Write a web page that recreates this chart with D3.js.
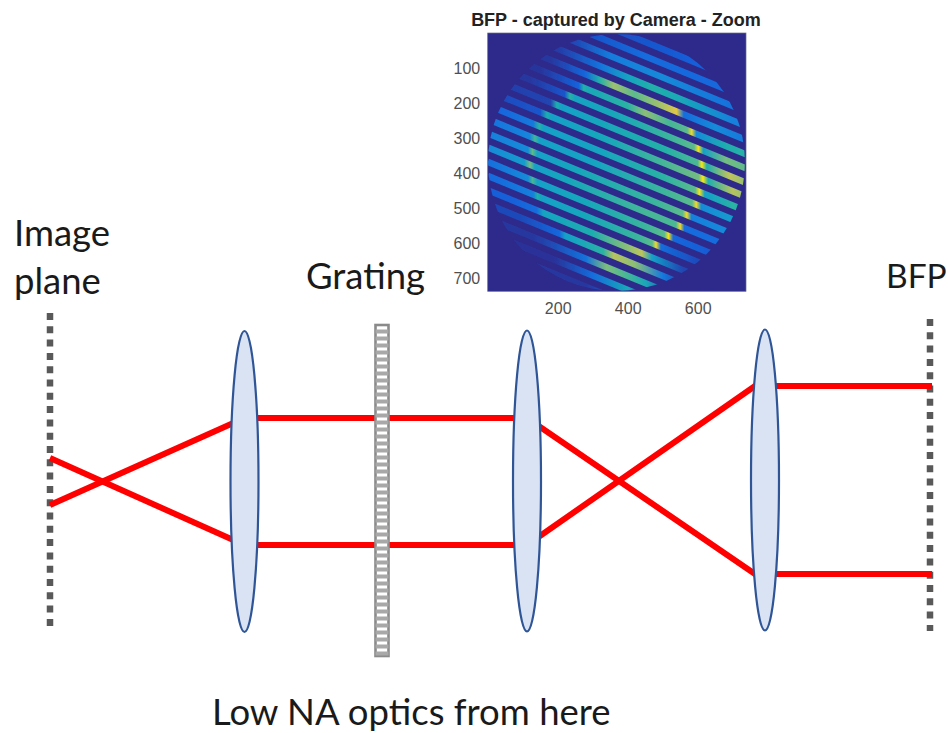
<!DOCTYPE html>
<html>
<head>
<meta charset="utf-8">
<script src="https://cdn.jsdelivr.net/npm/d3@7"></script>
<style>
  html, body { margin: 0; padding: 0; background: #fff; }
  svg { display: block; }
  .label { font-family: Lato, "Open Sans", sans-serif; font-size: 36.5px; fill: #1a1a1a; }
  .inset text { font-family: "Liberation Sans", Arial, sans-serif; }
</style>
</head>
<body>
<svg id="chart" width="948" height="733"></svg>
<script>
// optical bench: stations along the axis, ray heights above the axis
const imagePlaneX = 50;
const lensX = [244.5, 527, 765];
const gratingX = 382;
const bfpX = 930;
const rayUpper = [[50, 23], [244.5, -64], [527, -64], [755, 95], [932, 95]];
const rayLower = [[50, -24], [244.5, 63], [527, 63], [755, -93], [932, -93]];
const gratingRungs = d3.range(0, 47);

const labelTexts = ['Image', 'plane', 'Grating', 'BFP', 'Low NA optics from here'];

// camera image: stripes are y = offset + slope * x in pixel units
const insetTitle = 'BFP - captured by Camera - Zoom';
const xTicks = [200, 400, 600];
const yTicks = [100, 200, 300, 400, 500, 600, 700];
const stripeSlope = 0.41;
const stripeOffsets = [-159, -118, -78, -37, 3, 44, 84, 125, 165, 206, 246, 287, 327, 368, 408, 449, 489, 530, 570, 610];
// [x, level] read along each stripe
const stripeLevels = [
  [[380, .18], [620, .25]],
  [[300, .2], [450, .3], [650, .28]],
  [[240, .12], [350, .36], [500, .42], [700, .32]],
  [[200, .08], [320, .32], [400, .52], [470, .6], [550, .55], [700, .38]],
  [[180, .06], [280, .28], [320, .6], [360, .8], [420, .72], [500, .82], [540, .9], [560, .3], [650, .42], [720, .36]],
  [[150, .05], [260, .26], [274, .6], [290, .55], [400, .62], [450, .78], [520, .68], [570, .72], [583, .95], [596, .42], [680, .58], [745, .62]],
  [[120, .06], [220, .2], [235, .62], [250, .52], [380, .55], [520, .66], [590, .72], [602, .98], [616, .5], [680, .75], [745, .72]],
  [[60, .1], [180, .12], [197, .58], [212, .5], [350, .55], [500, .6], [600, .7], [612, 1], [626, .58], [690, .85], [745, .78]],
  [[30, .15], [150, .2], [169, .58], [184, .5], [350, .55], [500, .68], [603, .75], [615, 1], [630, .58], [700, .84], [745, .78]],
  [[10, .25], [130, .35], [147, .62], [160, .5], [300, .52], [500, .62], [593, .72], [605, .98], [620, .5], [700, .62], [745, .6]],
  [[0, .32], [120, .4], [135, .68], [148, .5], [300, .52], [500, .66], [584, .72], [596, .95], [610, .42], [720, .5]],
  [[0, .38], [115, .42], [128, .72], [142, .5], [280, .55], [480, .66], [557, .72], [569, .95], [582, .38], [700, .42]],
  [[0, .42], [105, .48], [121, .75], [135, .5], [250, .55], [450, .68], [538, .7], [550, .95], [562, .3], [680, .3]],
  [[10, .32], [115, .42], [128, .68], [142, .5], [300, .55], [450, .66], [505, .72], [517, .98], [530, .28], [650, .22]],
  [[30, .3], [130, .38], [142, .6], [156, .5], [300, .55], [430, .66], [470, .72], [481, .95], [495, .3], [600, .15]],
  [[60, .24], [140, .3], [159, .52], [300, .58], [400, .78], [440, .85], [470, .5], [560, .12]],
  [[90, .14], [205, .28], [221, .5], [330, .62], [360, .84], [420, .78], [500, .35], [560, .1]],
  [[130, .06], [280, .32], [340, .76], [400, .68], [450, .55], [530, .15]],
  [[190, .04], [300, .3], [400, .55], [480, .2]],
  [[280, .06], [400, .3], [480, .1]]
];
const pupil = { cx: 368, cy: 370, r: 367 };

const svg = d3.select('#chart');
const defs = svg.append('defs');

// bench scales
const benchX = d3.scaleLinear().domain([0, 948]).range([0, 948]);
const benchY = d3.scaleLinear().domain([-150, 150]).range([631, 331]);

// inset scales
const imgX = d3.scaleLinear().domain([0, 738]).range([487.7, 746]);
const imgY = d3.scaleLinear().domain([0, 738]).range([33, 291.3]);
const parula = d3.scaleLinear()
  .domain([0, .25, .4, .5, .6, .7, .8, .9, 1])
  .range(['#2d2a8c', '#1460dc', '#1585dc', '#12a0c8', '#22b0a8', '#4cb894', '#9cc070', '#e0c845', '#fbe80f']);

defs.append('filter').attr('id', 'soft')
  .attr('x', '-5%').attr('y', '-5%').attr('width', '110%').attr('height', '110%')
  .append('feGaussianBlur').attr('stdDeviation', 0.7);
defs.append('clipPath').attr('id', 'pupil-clip')
  .append('circle')
  .attr('cx', imgX(pupil.cx))
  .attr('cy', imgY(pupil.cy))
  .attr('r', imgX(pupil.r) - imgX(0));
defs.append('clipPath').attr('id', 'img-clip')
  .append('rect')
  .attr('x', imgX(0)).attr('y', imgY(0))
  .attr('width', imgX(738) - imgX(0)).attr('height', imgY(738) - imgY(0));

// one gradient per stripe, end levels pad out to the pupil edge
stripeLevels.forEach((knots, i) => {
  const x0 = knots[0][0];
  const x1 = knots[knots.length - 1][0];
  const grad = defs.append('linearGradient')
    .attr('id', `stripe-${i}`)
    .attr('gradientUnits', 'userSpaceOnUse')
    .attr('x1', imgX(x0)).attr('y1', 0)
    .attr('x2', imgX(x1)).attr('y2', 0);
  grad.selectAll('stop')
    .data(knots)
    .enter()
    .append('stop')
    .attr('offset', d => (d[0] - x0) / (x1 - x0))
    .attr('stop-color', d => parula(d[1]));
});

const inset = svg.append('g').attr('class', 'inset');

inset.append('rect')
  .attr('x', imgX(0)).attr('y', imgY(0))
  .attr('width', imgX(738) - imgX(0)).attr('height', imgY(738) - imgY(0))
  .attr('fill', parula(0));

const stripes = inset.append('g')
  .attr('clip-path', 'url(#img-clip)')
  .append('g')
  .attr('filter', 'url(#soft)')
  .append('g')
  .attr('clip-path', 'url(#pupil-clip)');

stripes.selectAll('line')
  .data(stripeOffsets)
  .enter()
  .append('line')
  .attr('x1', imgX(0))
  .attr('y1', d => imgY(d))
  .attr('x2', imgX(738))
  .attr('y2', d => imgY(d + stripeSlope * 738))
  .attr('stroke', (d, i) => `url(#stripe-${i})`)
  .attr('stroke-width', 6.5);

inset.append('rect')
  .attr('x', imgX(0)).attr('y', imgY(0))
  .attr('width', imgX(738) - imgX(0)).attr('height', imgY(738) - imgY(0))
  .attr('fill', 'none')
  .attr('stroke', '#6a6a8c')
  .attr('stroke-width', 0.7);

const xAxis = inset.append('g')
  .attr('transform', `translate(0,${imgY(738)})`)
  .call(d3.axisBottom(imgX).tickValues(xTicks).tickSize(0).tickPadding(11));
const yAxis = inset.append('g')
  .attr('transform', `translate(${imgX(0)},0)`)
  .call(d3.axisLeft(imgY).tickValues(yTicks).tickSize(0).tickPadding(7.5));
[xAxis, yAxis].forEach(a => {
  a.select('.domain').remove();
  a.selectAll('text').attr('fill', '#4f4f4f').style('font-size', '16px');
});

inset.append('text')
  .attr('x', 616)
  .attr('y', 26)
  .attr('text-anchor', 'middle')
  .attr('font-weight', 'bold')
  .attr('fill', '#222')
  .style('font-size', '18px')
  .text(insetTitle);

// image plane and BFP
const planes = svg.append('g');
planes.selectAll('line')
  .data([[imagePlaneX, 313, 626], [bfpX, 319, 631]])
  .enter()
  .append('line')
  .attr('x1', d => benchX(d[0]))
  .attr('x2', d => benchX(d[0]))
  .attr('y1', d => d[1])
  .attr('y2', d => d[2])
  .attr('stroke', '#595959')
  .attr('stroke-width', 6.5)
  .attr('stroke-dasharray', '7 6.3');

// rays
const rayLine = d3.line().x(d => benchX(d[0])).y(d => benchY(d[1]));
svg.append('g')
  .selectAll('path')
  .data([rayUpper, rayLower])
  .enter()
  .append('path')
  .attr('d', rayLine)
  .attr('fill', 'none')
  .attr('stroke', '#ff0000')
  .attr('stroke-width', 6)
  .attr('stroke-linejoin', 'round');

// grating
const grating = svg.append('g');
grating.append('rect')
  .attr('x', benchX(gratingX) - 6.5)
  .attr('y', 325)
  .attr('width', 13)
  .attr('height', 331)
  .attr('fill', '#fff')
  .attr('stroke', '#8a8a8a')
  .attr('stroke-width', 2.6);
grating.selectAll('rect.rung')
  .data(gratingRungs)
  .enter()
  .append('rect')
  .attr('class', 'rung')
  .attr('x', benchX(gratingX) - 6.5)
  .attr('y', d => 329.5 + d * 7)
  .attr('width', 13)
  .attr('height', 4)
  .attr('fill', '#a8a8a8');

// lenses
svg.append('g')
  .selectAll('ellipse')
  .data(lensX)
  .enter()
  .append('ellipse')
  .attr('cx', d => benchX(d))
  .attr('cy', (d, i) => [481.5, 481, 480][i])
  .attr('rx', 14)
  .attr('ry', 150.5)
  .attr('fill', '#dae3f3')
  .attr('stroke', '#2f5597')
  .attr('stroke-width', 2.2);

const labelPos = [[14, 246], [14, 294], [306, 289], [886, 288], [212, 725]];
svg.append('g')
  .selectAll('text')
  .data(labelTexts)
  .enter()
  .append('text')
  .attr('class', 'label')
  .attr('x', (d, i) => labelPos[i][0])
  .attr('y', (d, i) => labelPos[i][1])
  .style('font-size', d => d === 'BFP' ? '33.5px' : null)
  .text(d => d);
</script>
</body>
</html>
